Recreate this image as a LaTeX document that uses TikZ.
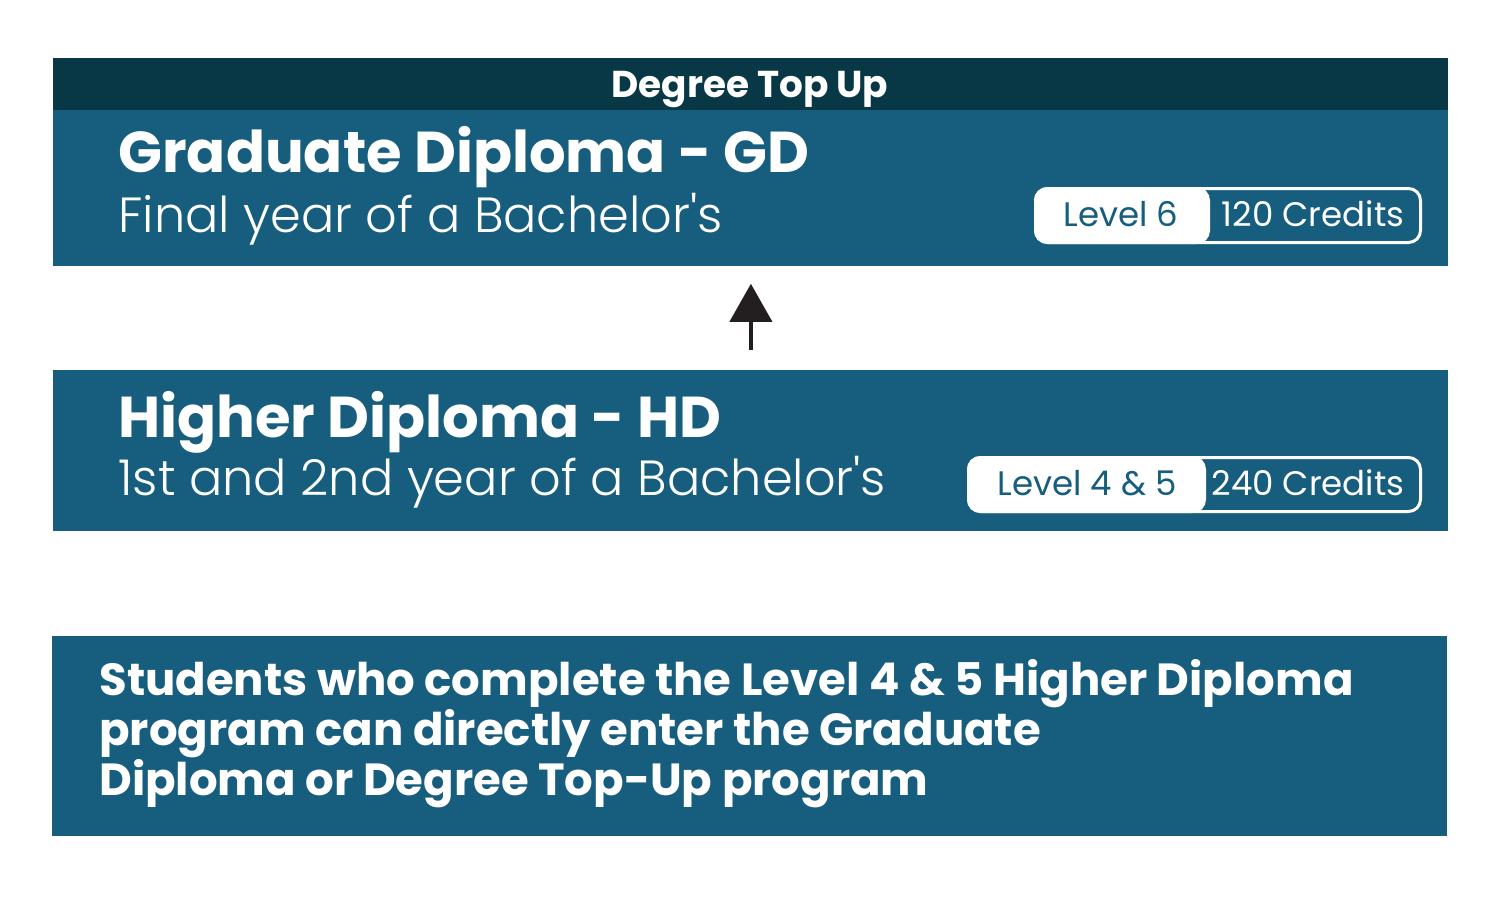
\documentclass[tikz,border=0pt]{standalone}
\usepackage{fontspec}
\setmainfont{Poppins}
\newfontfamily\lightfont{Poppins}[UprightFont=* Light]
\usetikzlibrary{arrows.meta}

\definecolor{bandcol}{HTML}{083745}
\definecolor{boxcol}{HTML}{175E7E}
\definecolor{arrowcol}{HTML}{231F20}

\begin{document}
\begin{tikzpicture}[x=0.5pt,y=-0.5pt,
    box/.style={fill=boxcol, inner sep=0pt, anchor=north west},
    title/.style={anchor=base west, inner sep=0pt, text=white, font=\fontsize{28.8}{28.8}\selectfont\bfseries},
    subtitle/.style={anchor=base west, inner sep=0pt, text=white, font=\fontsize{24.7}{24.7}\selectfont\lightfont},
    badge/.style={draw=white, fill=boxcol, line width=1.5pt, rounded corners=6pt, inner sep=0pt, anchor=north west, minimum height=27pt},
    badgetext/.style={inner sep=0pt, font=\fontsize{17}{17}\selectfont}]
    \useasboundingbox (0,0) rectangle (1500,896);

    % top box
    \node[box, fill=bandcol, minimum width=697.5pt, minimum height=26pt] (band) at (53,58) {};
    \node[anchor=base, inner sep=0pt, text=white, font=\fontsize{18.7}{18.7}\selectfont\bfseries] (bandlabel) at (750,97) {Degree Top Up};
    \node[box, minimum width=697.5pt, minimum height=78pt] (gd) at (53,110) {};
    \node[title] (gdtitle) at (118,172) {Graduate Diploma - GD};
    \node[subtitle] (gdsub) at (118,232) {Final year of a Bachelor's};
    \node[badge, minimum width=192.5pt] (gdbadge) at (1034,187) {};
    \node[badge, fill=white, minimum width=86.5pt] (gdlevel) at (1034,187) {};
    \node[badgetext, text=boxcol] at (1121,214) {Level 6};
    \node[badgetext, text=white] at (1313,214) {120 Credits};

    % middle box
    \node[box, minimum width=697.5pt, minimum height=80.5pt] (hd) at (53,370) {};
    \node[title] (hdtitle) at (118,437) {Higher Diploma - HD};
    \node[subtitle] (hdsub) at (118,495) {1st and 2nd year of a Bachelor's};
    \node[badge, minimum width=226pt] (hdbadge) at (967,456) {};
    \node[badge, fill=white, minimum width=118pt] (hdlevel) at (967,456) {};
    \node[badgetext, text=boxcol] at (1087,483) {Level 4 \& 5};
    \node[badgetext, text=white] at (1308,483) {240 Credits};

    \draw[arrowcol, line width=2pt, -{Triangle[width=21pt,length=19pt]},
        shorten <=10pt, shorten >=8.5pt] (hd.north) -- (gd.south);

    % note
    \node[box, minimum width=697.5pt, minimum height=100pt] (note) at (52,636) {};
    \node[anchor=north west, inner sep=0pt, text=white, align=left,
        font=\fontsize{22.5}{25}\selectfont\bfseries] (notetext) at (99,659)
        {Students who complete the Level 4 \& 5 Higher Diploma\\
         program can directly enter the Graduate\\
         Diploma or Degree Top-Up program};
\end{tikzpicture}
\end{document}
